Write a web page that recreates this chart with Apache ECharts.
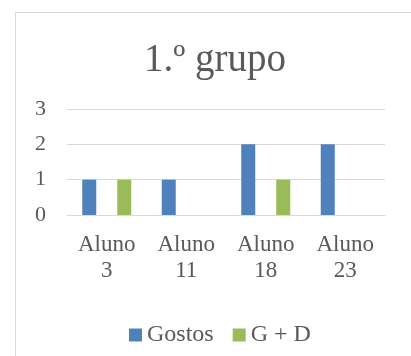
<!DOCTYPE html>
<html><head><meta charset="utf-8">
<script src="https://cdn.jsdelivr.net/npm/echarts@6/dist/echarts.min.js"></script>
<style>html,body{margin:0;padding:0;background:#fff}#c{width:411px;height:356px}</style>
</head><body><div id="c"></div>
<script>
var categories = ['Aluno\n3', 'Aluno\n11', 'Aluno\n18', 'Aluno\n23'];
var gostos = [1, 1, 2, 2];
var gd = [1, 0, 1, 0];
var yTicks = [0, 1, 2, 3];
var font = 'Liberation Serif';
var chart = echarts.init(document.getElementById('c'), null, {renderer: 'canvas'});
chart.setOption({
  backgroundColor: '#fff',
  animation: false,
  graphic: [{type: 'rect', shape: {x: 15.5, y: 12.5, width: 420, height: 360},
    style: {fill: 'none', stroke: '#D9D9D9', lineWidth: 1}}],
  title: {text: '1.º grupo', left: 210, top: 36, textAlign: 'center',
    textStyle: {fontFamily: font, fontSize: 39, fontWeight: 'normal', color: '#595959'}},
  legend: {data: ['Gostos', 'G + D'], left: 124, top: 318, itemWidth: 13, itemHeight: 13, itemGap: 19,
    icon: 'rect', textStyle: {fontFamily: font, fontSize: 24, color: '#595959'}},
  grid: {left: 67, right: 26, top: 109, bottom: 141, containLabel: false},
  xAxis: {type: 'category', data: categories,
    axisLine: {show: true, lineStyle: {color: '#D9D9D9', width: 1}},
    axisTick: {show: false},
    axisLabel: {fontFamily: font, fontSize: 23, color: '#595959', lineHeight: 26, margin: 17, interval: 0}},
  yAxis: {type: 'value', min: 0, max: 3, interval: 1,
    axisLine: {show: false}, axisTick: {show: false},
    splitLine: {lineStyle: {color: '#D9D9D9', width: 1}},
    axisLabel: {fontFamily: font, fontSize: 22, color: '#595959', margin: 21,
      formatter: function (v) { return yTicks.indexOf(v) >= 0 ? String(v) : ''; }}},
  series: [
    {name: 'Gostos', type: 'bar', data: gostos, barWidth: 14, barGap: '150%', itemStyle: {color: '#4F81BD'}},
    {name: 'G + D', type: 'bar', data: gd, barWidth: 14, itemStyle: {color: '#9BBB59'}}
  ]
});
</script></body></html>
